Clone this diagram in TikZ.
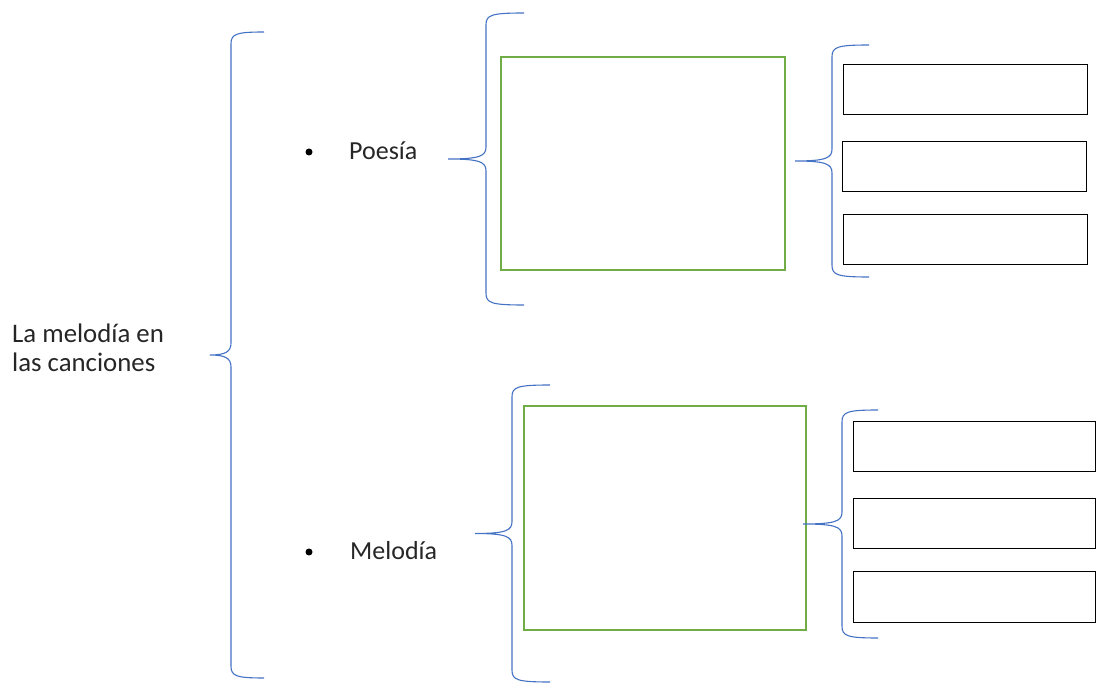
\documentclass[tikz,border=0pt]{standalone}
\usepackage{fontspec}
\setmainfont{Carlito}
\definecolor{azul}{HTML}{4472C4}
\definecolor{verde}{HTML}{70AD47}
% llave: x de la linea, y arriba, y abajo, x de la punta, x de los extremos
\newcommand{\llave}[5]{%
  \draw[llv] (#5,#2) .. controls (#1+5,#2) and (#1,#2+2) .. (#1,#2+12)
    -- (#1,{(#2+#3)/2-12}) .. controls (#1,{(#2+#3)/2-3}) and (#1-6,{(#2+#3)/2}) .. (#4,{(#2+#3)/2})
    .. controls (#1-6,{(#2+#3)/2}) and (#1,{(#2+#3)/2+3}) .. (#1,{(#2+#3)/2+12})
    -- (#1,#3-12) .. controls (#1,#3-2) and (#1+5,#3) .. (#5,#3);}
\begin{document}
\begin{tikzpicture}[x=1pt,y=-1pt,
  llv/.style={draw=azul,line width=1.1pt},
  grande/.style={draw=verde,line width=1.5pt,inner sep=0,outer sep=0,minimum width=284,minimum height=213},
  chica/.style={draw=black,line width=1pt,inner sep=0,outer sep=0,minimum width=244,minimum height=50},
  txt/.style={inner sep=0,text=black!85,font=\fontsize{26}{29}\selectfont},
  punto/.style={circle,fill=black,inner sep=0,minimum size=7}]
\useasboundingbox (0,0) rectangle (1096,684);
\node[txt,align=left,anchor=base west,font=\fontsize{26.8}{29}\selectfont] (T) at (12,372) {La melodía en\\las canciones};
\node[punto] (b1) at (309,152) {};
\node[txt,anchor=base west] (poe) at (349,160) {Poesía};
\node[punto] (b2) at (309,552) {};
\node[txt,anchor=base west] (mel) at (350,560) {Melodía};
\node[grande] (G1) at (643,163.5) {};
\node[grande,minimum width=282,minimum height=224] (G2) at (665,518) {};
\node[chica] (a1) at (965,90) {};
\node[chica] (a2) at (964,166.5) {};
\node[chica] (a3) at (965,240) {};
\node[chica,minimum width=242] (m1) at (974,447) {};
\node[chica,minimum width=242] (m2) at (974,523.5) {};
\node[chica,minimum width=242] (m3) at (974,597) {};
\llave{231}{32}{678}{210}{264}
\llave{486}{13}{305}{448}{524}
\llave{832}{45}{277}{795}{869}
\llave{512}{385}{682}{475}{550}
\llave{842}{410}{638}{803}{878}
\end{tikzpicture}
\end{document}
